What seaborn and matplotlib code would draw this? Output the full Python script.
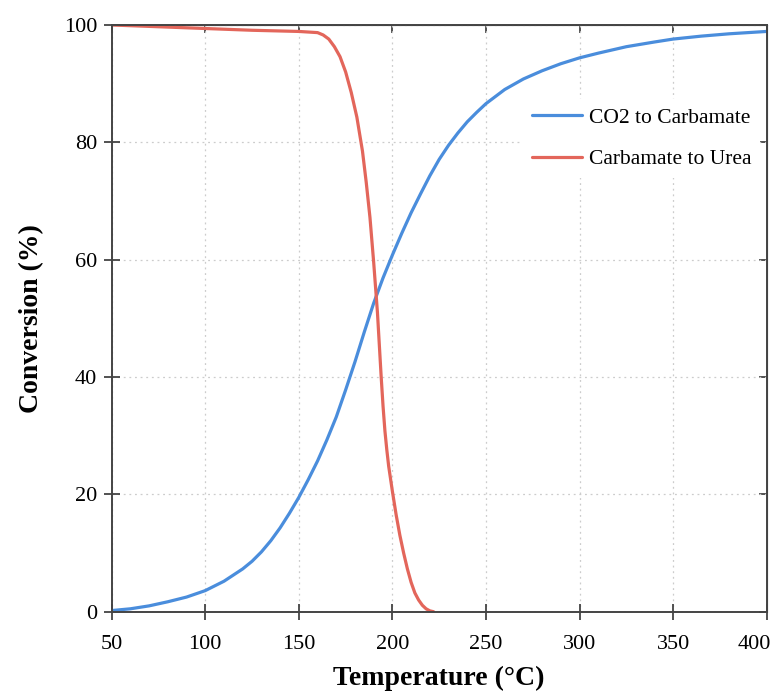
import matplotlib
matplotlib.use("Agg")
import matplotlib.pyplot as plt
import matplotlib.transforms as mtransforms
import pandas as pd
import seaborn as sns

# CO2 -> carbamate conversion
temp_co2 = [50, 60, 70, 80, 90, 100, 110, 120, 125, 130, 135, 140, 145, 150, 155, 160,
            165, 170, 175, 180, 185, 190, 195, 200, 205, 210, 215, 220, 225, 230, 235,
            240, 245, 250, 260, 270, 280, 290, 300, 310, 325, 340, 350, 365, 380, 400]
conv_co2 = [0.2, 0.5, 1.0, 1.7, 2.5, 3.6, 5.2, 7.3, 8.6, 10.2, 12.1, 14.3, 16.8, 19.5,
            22.5, 25.7, 29.3, 33.2, 37.8, 42.6, 47.7, 52.6, 56.9, 60.8, 64.5, 68.0, 71.2,
            74.3, 77.1, 79.5, 81.6, 83.5, 85.1, 86.6, 89.0, 90.8, 92.2, 93.4, 94.4, 95.2,
            96.3, 97.1, 97.6, 98.1, 98.5, 98.9]

# carbamate -> urea conversion
temp_urea = [50, 75, 100, 125, 150, 160, 163, 166, 169, 172, 175, 178, 181, 184, 186,
             188, 190, 192, 193, 194, 195, 196, 197, 198, 200, 202, 204, 206, 208, 210,
             212, 214, 216, 218, 220, 222]
conv_urea = [100, 99.7, 99.4, 99.1, 98.9, 98.7, 98.3, 97.6, 96.3, 94.6, 92.0, 88.5, 84.3,
             78.5, 73.2, 67.2, 59.5, 51.0, 45.5, 40.0, 35.0, 30.8, 27.6, 24.8, 20.5, 16.5,
             13.0, 10.0, 7.3, 5.0, 3.2, 2.0, 1.1, 0.5, 0.15, 0]

labels = ["CO2 to Carbamate", "Carbamate to Urea"]
colors = ["#4a8ddc", "#e3665b"]
x_ticks = [50, 100, 150, 200, 250, 300, 350, 400]
y_ticks = [0, 20, 40, 60, 80, 100]

df = pd.concat([
    pd.DataFrame({"T": temp_co2, "conv": conv_co2, "series": labels[0]}),
    pd.DataFrame({"T": temp_urea, "conv": conv_urea, "series": labels[1]}),
])

sns.set_style("white")
plt.rcParams["font.family"] = ["Liberation Serif", "DejaVu Serif"]
plt.rcParams["lines.solid_joinstyle"] = "round"

fig = plt.figure(figsize=(7.79, 6.98), dpi=100)
ax = fig.add_axes([0.1434, 0.1236, 0.8408, 0.8406])

sns.lineplot(data=df, x="T", y="conv", hue="series", palette=colors,
             linewidth=2.3, ax=ax, sort=False)

ax.set_xlim(50, 400)
ax.set_ylim(0, 100)
ax.set_xticks(x_ticks)
ax.set_yticks(y_ticks)
ax.grid(True, linestyle=(0, (1.5, 3)), color="#cccccc", linewidth=0.9)

for s in ax.spines.values():
    s.set_color("#444444")
    s.set_linewidth(1.4)

ax.tick_params(axis="both", bottom=True, left=True, direction="inout", length=11,
               width=1.3, color="#444444", labelsize=16, labelcolor="black")
ax.tick_params(axis="x", pad=11)
ax.tick_params(axis="y", pad=5)

# inward ticks on top and right
top = ax.secondary_xaxis("top")
top.set_xticks(x_ticks)
top.tick_params(top=True, direction="in", length=6, width=1.3, color="#444444", labeltop=False)
right = ax.secondary_yaxis("right")
right.set_yticks(y_ticks)
right.tick_params(right=True, direction="in", length=6, width=1.3, color="#444444", labelright=False)

# last x tick label sits a bit left so it stays on the page
last = ax.get_xticklabels()[-1]
last.set_transform(last.get_transform() +
                   mtransforms.ScaledTranslation(-9 / 72, 0, fig.dpi_scale_trans))

ax.set_xlabel("Temperature (°C)", fontsize=20, fontweight="bold", color="black", labelpad=9)
ax.set_ylabel("Conversion (%)", fontsize=20, fontweight="bold", color="black", labelpad=14)

leg = ax.legend(loc="upper right", bbox_to_anchor=(1.0, 0.885), borderaxespad=0.3,
                fontsize=15.5, frameon=True, framealpha=1, edgecolor="none",
                handlelength=2.3, handletextpad=0.35, labelspacing=1.0, title=None)
leg.get_frame().set_facecolor("white")
for t in leg.get_texts():
    t.set_color("black")

fig.savefig("out.png", dpi=100)
